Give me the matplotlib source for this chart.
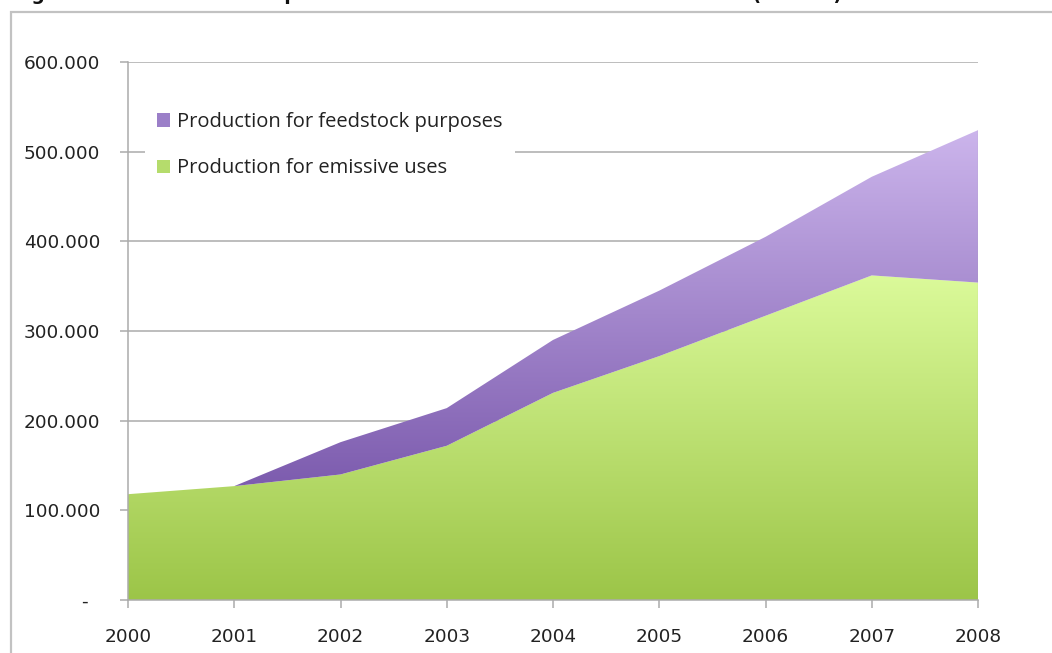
import numpy as np
import matplotlib
matplotlib.use("Agg")
import matplotlib.pyplot as plt
from matplotlib.colors import LinearSegmentedColormap
from matplotlib.patches import Patch, Rectangle
from matplotlib.ticker import FuncFormatter

# HCFC production by purpose, tonnes
years = [2000, 2001, 2002, 2003, 2004, 2005, 2006, 2007, 2008]
emissive = [118000, 127000, 140000, 172000, 231000, 272000, 317000, 362000, 354000]
feedstock = [0, 0, 36000, 42000, 59000, 73000, 88000, 110000, 170000]
series_labels = ["Production for feedstock purposes", "Production for emissive uses"]
y_ticks = [0, 100000, 200000, 300000, 400000, 500000, 600000]
title = "Figure 1: Global HCFC-22 production for emissive and feedstock uses (tonnes)"

W, H = 1052, 653
fig = plt.figure(figsize=(W / 100, H / 100), dpi=100)
fig.patch.set_facecolor("white")

ax = fig.add_axes([128 / W, 1 - 600 / H, 850 / W, 538 / H])

x = np.array(years, dtype=float)
lower = np.array(emissive, dtype=float)
upper = lower + np.array(feedstock, dtype=float)


def gradient_area(ax, x, y0, y1, c_bottom, c_top, zorder):
    """Fill between y0 and y1 with a vertical colour gradient."""
    poly = ax.fill_between(x, y0, y1, facecolor="none", edgecolor="none", zorder=zorder)
    ylo, yhi = np.min(y0), np.max(y1)
    grad = np.linspace(0, 1, 256).reshape(-1, 1)
    cmap = LinearSegmentedColormap.from_list("grad", [c_bottom, c_top])
    im = ax.imshow(grad, extent=[x[0], x[-1], ylo, yhi], origin="lower",
                   aspect="auto", cmap=cmap, zorder=zorder, interpolation="bilinear")
    im.set_clip_path(poly.get_paths()[0], transform=ax.transData)
    return im


green_bottom, green_top = "#9cc548", "#dbfa9a"
purple_bottom, purple_top = "#7b5aad", "#ccb5ec"

gradient_area(ax, x, np.zeros_like(lower), lower, green_bottom, green_top, 2)
gradient_area(ax, x, lower, upper, purple_bottom, purple_top, 2)
# thin edge on the right side of the stacked areas
ax.plot([x[-1], x[-1]], [0, upper[-1]], color="#9a9a9a", lw=0.8, zorder=3)

ax.set_xlim(2000, 2008)
ax.set_ylim(0, 600000)
ax.set_xticks(years)
ax.set_yticks(y_ticks)


def fmt(v, pos):
    if v == 0:
        return "-  "
    return f"{v:,.0f}".replace(",", ".")


ax.yaxis.set_major_formatter(FuncFormatter(fmt))

grid_c = "#ababab"
ax.grid(axis="y", color=grid_c, lw=1.1, zorder=0)
ax.set_axisbelow(True)
for s in ("top", "right"):
    ax.spines[s].set_visible(False)
for s in ("left", "bottom"):
    ax.spines[s].set_color(grid_c)
    ax.spines[s].set_linewidth(1.1)
    ax.spines[s].set_zorder(4)

ax.tick_params(axis="y", length=6, width=1.1, color=grid_c, pad=14,
               labelsize=13.3, labelcolor="#222222")
ax.tick_params(axis="x", length=5.5, width=1.1, color=grid_c, pad=15,
               labelsize=13.3, labelcolor="#222222")
ax.set_facecolor("white")

handles = [Patch(facecolor="#9b7fc8", edgecolor="none", label=series_labels[0]),
           Patch(facecolor="#b5dc6c", edgecolor="none", label=series_labels[1])]
leg = ax.legend(handles=handles, loc="upper left", bbox_to_anchor=(17 / 850, 1 - 38 / 538),
                frameon=True, facecolor="white", edgecolor="none", fancybox=False,
                framealpha=1, handlelength=0.62, handleheight=0.62, handletextpad=0.38,
                labelspacing=1.3, borderpad=0.6, borderaxespad=0,
                prop={"family": "Open Sans", "size": 14.5})
leg.set_zorder(5)
for t in leg.get_texts():
    t.set_color("#222222")

# outer chart frame
fig.add_artist(Rectangle((11 / W, -0.05), 1.2, 1 - 12 / H + 0.05, transform=fig.transFigure,
                         fill=False, edgecolor="#c2c2c2", lw=1.6))

# heading sits above the frame, mostly outside the canvas
fig.text(12 / W, 1.0, title, ha="left", va="baseline", fontsize=13.5,
         fontweight="bold", color="#111111")

fig.savefig("out.png", dpi=100)
